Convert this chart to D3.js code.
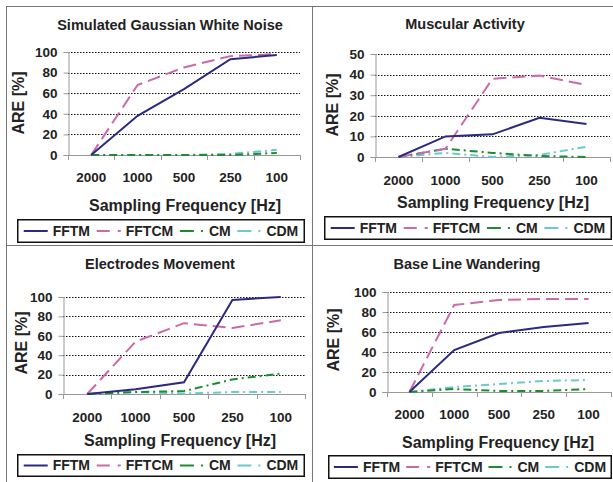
<!DOCTYPE html>
<html>
<head>
<meta charset="utf-8">
<script src="https://cdn.jsdelivr.net/npm/d3@7"></script>
<style>
  html, body { margin: 0; padding: 0; background: #fff; }
  svg { display: block; font-family: "Liberation Sans", Arial, sans-serif; font-weight: bold; }
</style>
</head>
<body>
<div id="chart"></div>
<script>
// Sampling frequency categories and series names
const categories = ["2000", "1000", "500", "250", "100"];
const seriesNames = ["FFTM", "FFTCM", "CM", "CDM"];
const panelTitles = ["Simulated Gaussian White Noise", "Muscular Activity", "Electrodes Movement", "Base Line Wandering"];
const yMaxes = [100, 50, 100, 100];
const yTickSteps = [20, 10, 20, 20];

// ARE [%] values
const noiseFFTM = [0, 38, 64, 93, 97];
const noiseFFTCM = [0, 68, 85, 96, 98];
const noiseCM = [0, 0, 0, 0, 2];
const noiseCDM = [0, 0, 0, 1, 5];

const muscleFFTM = [0, 10, 11, 19, 16];
const muscleFFTCM = [0, 4, 38, 39.5, 35];
const muscleCM = [0, 4, 2, 0.5, 0];
const muscleCDM = [0, 2, 0, 1, 5];

const electrodeFFTM = [0, 5, 12, 97, 100];
const electrodeFFTCM = [0, 54, 73, 68, 76];
const electrodeCM = [0, 2, 3, 15, 21];
const electrodeCDM = [0, 2, 0.5, 2, 2];

const baselineFFTM = [0, 42, 59, 65, 69];
const baselineFFTCM = [0, 87, 92, 93, 93];
const baselineCM = [0, 3, 1, 1, 3];
const baselineCDM = [0, 5, 8, 11, 12];

const panelValues = [
  [noiseFFTM, noiseFFTCM, noiseCM, noiseCDM],
  [muscleFFTM, muscleFFTCM, muscleCM, muscleCDM],
  [electrodeFFTM, electrodeFFTCM, electrodeCM, electrodeCDM],
  [baselineFFTM, baselineFFTCM, baselineCM, baselineCDM]
];

(function() {
  const width = 613, height = 482;

  const colors = {FFTM: "#2c2a80", FFTCM: "#cc6aa9", CM: "#1f8a30", CDM: "#6cc9cc"};
  const dashes = {FFTM: null, FFTCM: "13,6", CM: "8,4,2,4", CDM: "8,4,2,4"};
  const legendDashes = {FFTM: null, FFTCM: "13,8", CM: "14,7,2,7", CDM: "14,7,2,7"};

  // layout of the four panels (pixels)
  const layouts = [
    {x0: 68, x1: 300, yTop: 52, yBot: 155, title: [170, 25], tickY: 177, xTitle: [185, 205], yTitle: [18, 103], legend: [17, 219, 305, 243]},
    {x0: 375, x1: 610, yTop: 54, yBot: 157, title: [465, 24], tickY: 180, xTitle: [493, 202], yTitle: [332, 105], legend: [324, 216, 612, 240]},
    {x0: 63, x1: 305, yTop: 297, yBot: 394, title: [160, 264], tickY: 417, xTitle: [180, 440], yTitle: [21, 343], legend: [17, 454, 305, 477]},
    {x0: 387, x1: 611, yTop: 292, yBot: 392, title: [467, 264], tickY: 414, xTitle: [498, 442], yTitle: [333, 340], legend: [328, 455, 612, 479]}
  ];

  const svg = d3.select("#chart").append("svg")
    .attr("width", width)
    .attr("height", height);

  // frame lines between panels
  const frame = svg.append("g").attr("stroke", "#777").attr("stroke-width", 1).attr("fill", "none");
  frame.append("line").attr("x1", 6.5).attr("x2", 6.5).attr("y1", 6).attr("y2", height);
  frame.append("line").attr("x1", 6).attr("x2", width).attr("y1", 6.5).attr("y2", 6.5);
  frame.append("line").attr("x1", 312.5).attr("x2", 312.5).attr("y1", 6).attr("y2", height);
  frame.append("line").attr("x1", 6).attr("x2", width).attr("y1", 245.5).attr("y2", 245.5);

  layouts.forEach((L, i) => {
    const g = svg.append("g");
    const x = d3.scaleBand().domain(categories).range([L.x0, L.x1]);
    const y = d3.scaleLinear().domain([0, yMaxes[i]]).range([L.yBot, L.yTop]);
    const ticks = d3.range(0, yMaxes[i] + 1, yTickSteps[i]);

    // dotted gridlines
    g.append("g")
      .selectAll("line")
      .data(ticks.filter(t => t > 0))
      .join("line")
      .attr("x1", L.x0).attr("x2", L.x1)
      .attr("y1", d => Math.round(y(d)) + 0.5).attr("y2", d => Math.round(y(d)) + 0.5)
      .attr("stroke", "#111")
      .attr("stroke-dasharray", "1.5,1.5");

    // y axis
    const yAxis = g.append("g").attr("transform", `translate(${L.x0 + 0.5},0)`)
      .call(d3.axisLeft(y).tickValues(ticks).tickSize(5).tickPadding(6));
    yAxis.select(".domain").attr("stroke", "#999");
    yAxis.selectAll(".tick line").attr("stroke", "#999");
    yAxis.selectAll(".tick text")
      .attr("font-family", "Liberation Sans, Arial, sans-serif")
      .attr("font-weight", "bold")
      .attr("font-size", 13.5)
      .attr("fill", "#222");

    // x axis with ticks at band edges
    const xg = g.append("g");
    xg.append("line")
      .attr("x1", L.x0).attr("x2", L.x1)
      .attr("y1", Math.round(L.yBot) + 0.5).attr("y2", Math.round(L.yBot) + 0.5)
      .attr("stroke", "#999");
    xg.selectAll("line.tk")
      .data(categories.concat(["end"]))
      .join("line")
      .attr("class", "tk")
      .attr("x1", (d, k) => Math.round(L.x0 + k * x.step()) + 0.5)
      .attr("x2", (d, k) => Math.round(L.x0 + k * x.step()) + 0.5)
      .attr("y1", L.yBot).attr("y2", L.yBot + 5)
      .attr("stroke", "#999");
    xg.selectAll("text")
      .data(categories)
      .join("text")
      .attr("x", d => x(d) + x.bandwidth() / 2)
      .attr("y", L.tickY)
      .attr("dy", "0.35em")
      .attr("text-anchor", "middle")
      .attr("font-size", 13.5)
      .attr("fill", "#222")
      .text(d => d);

    // series lines
    const line = d3.line()
      .x((d, k) => x(categories[k]) + x.bandwidth() / 2)
      .y(d => y(d));
    g.append("g")
      .attr("fill", "none")
      .selectAll("path")
      .data(seriesNames.map((s, k) => ({name: s, values: panelValues[i][k]})).reverse())
      .join("path")
      .attr("stroke", d => colors[d.name])
      .attr("stroke-width", 2)
      .attr("stroke-dasharray", d => dashes[d.name])
      .attr("d", d => line(d.values));

    // titles
    g.append("text")
      .attr("x", L.title[0]).attr("y", L.title[1])
      .attr("dy", "0.35em")
      .attr("text-anchor", "middle")
      .attr("font-size", 14.5)
      .attr("fill", "#222")
      .text(panelTitles[i]);
    g.append("text")
      .attr("x", L.xTitle[0]).attr("y", L.xTitle[1])
      .attr("dy", "0.35em")
      .attr("text-anchor", "middle")
      .attr("font-size", 16)
      .attr("fill", "#222")
      .text("Sampling Frequency [Hz]");
    g.append("text")
      .attr("transform", `translate(${L.yTitle[0]},${L.yTitle[1]}) rotate(-90)`)
      .attr("dy", "0.35em")
      .attr("text-anchor", "middle")
      .attr("font-size", 16)
      .attr("fill", "#222")
      .text("ARE [%]");

    // legend
    const [lx0, ly0, lx1, ly1] = L.legend;
    const lg = g.append("g");
    lg.append("rect")
      .attr("x", lx0 + 0.75).attr("y", ly0 + 0.75)
      .attr("width", lx1 - lx0 - 1.5).attr("height", ly1 - ly0 - 1.5)
      .attr("fill", "#fff")
      .attr("stroke", "#111")
      .attr("stroke-width", 1.5);
    const items = lg.selectAll("g.item")
      .data(seriesNames)
      .join("g")
      .attr("class", "item");
    items.append("line")
      .attr("x1", 0).attr("x2", 24)
      .attr("y1", 0).attr("y2", 0)
      .attr("stroke", d => colors[d])
      .attr("stroke-width", 2)
      .attr("stroke-dasharray", d => legendDashes[d]);
    const labels = items.append("text")
      .attr("x", 29)
      .attr("dy", "0.35em")
      .attr("font-size", 14)
      .attr("fill", "#222")
      .text(d => d);
    const widths = labels.nodes().map(n => 29 + n.getComputedTextLength());
    const gap = (lx1 - lx0 - d3.sum(widths)) / (widths.length + 1);
    let cx = lx0 + gap;
    items.attr("transform", (d, k) => {
      const t = `translate(${cx},${(ly0 + ly1) / 2})`;
      cx += widths[k] + gap;
      return t;
    });
  });
})();
</script>
</body>
</html>
